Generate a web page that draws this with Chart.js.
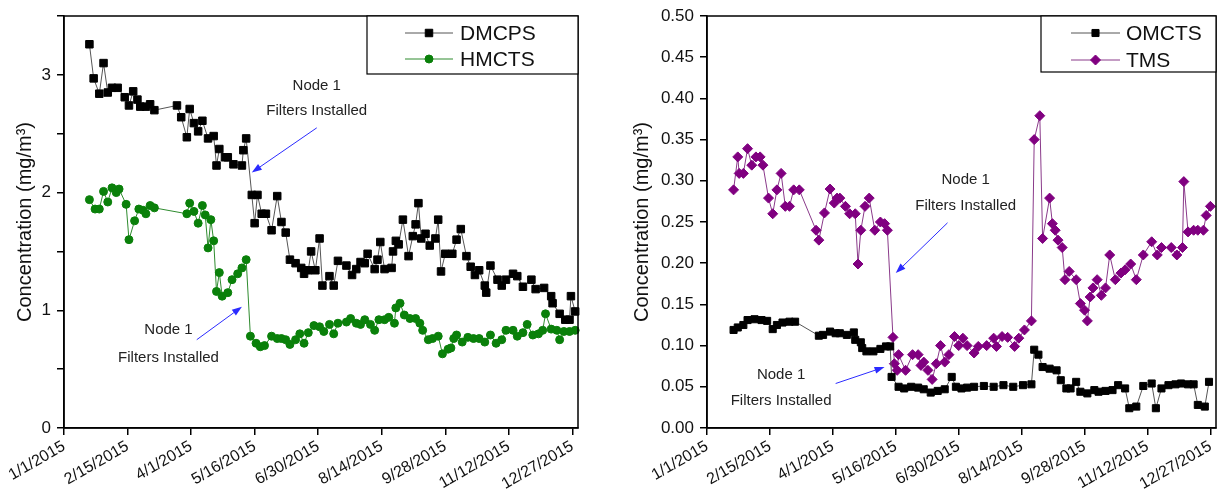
<!DOCTYPE html>
<html>
<head>
<meta charset="utf-8">
<script src="https://cdn.jsdelivr.net/npm/chart.js@4/dist/chart.umd.min.js"></script>
<style>
  html, body { margin: 0; padding: 0; background: #fff; }
  #wrap { position: relative; width: 1222px; height: 502px; }
  .panel { position: absolute; top: 0; width: 611px; height: 502px; }
</style>
</head>
<body>
<div id="wrap">
  <div class="panel" style="left:0"><canvas id="leftChart"></canvas></div>
  <div class="panel" style="left:611px"><canvas id="rightChart"></canvas></div>
</div>
<script>
'use strict';

// ─────────────────────────────────────────────
// DATA (x = days since 1/1/2015)
// ─────────────────────────────────────────────
const tickDays = [0, 45, 90, 135, 180, 225, 270, 315, 360];
const tickLabels = ['1/1/2015', '2/15/2015', '4/1/2015', '5/16/2015', '6/30/2015',
  '8/14/2015', '9/28/2015', '11/12/2015', '12/27/2015'];

const leftYTicks = [0, 0.5, 1, 1.5, 2, 2.5, 3, 3.5];
const rightYTicks = [0, 0.05, 0.1, 0.15, 0.2, 0.25, 0.3, 0.35, 0.4, 0.45, 0.5];

const dmcpsDays = [18, 21, 25, 28, 31, 34, 38, 43, 46, 49, 52, 54, 58, 61, 64,
  80, 83, 87, 89, 92, 95, 98, 102, 106, 108, 110, 114, 116, 120, 126, 127, 129,
  133, 135, 137, 140, 143, 147, 151, 154, 157, 160, 164, 168, 170, 173, 175, 178,
  181, 183, 188, 191, 194, 200, 204, 207, 210, 213, 215, 220, 222, 224, 227, 232,
  233, 235, 237, 240, 244, 247, 249, 251, 253, 256, 259, 263, 265, 267, 270, 275,
  278, 281, 285, 288, 291, 294, 298, 299, 302, 307, 310, 313, 318, 321, 325, 331,
  334, 340, 345, 346, 351, 355, 358, 359, 362];
const dmcpsValues = [3.26, 2.97, 2.84, 3.10, 2.85, 2.89, 2.89, 2.81, 2.74, 2.86, 2.79, 2.73, 2.73, 2.75, 2.70,
  2.74, 2.64, 2.47, 2.71, 2.59, 2.52, 2.61, 2.46, 2.48, 2.23, 2.37, 2.30, 2.30, 2.24, 2.23, 2.36, 2.46,
  1.98, 1.74, 1.98, 1.82, 1.82, 1.68, 1.97, 1.75, 1.66, 1.43, 1.40, 1.36, 1.31, 1.34, 1.50, 1.34,
  1.61, 1.21, 1.29, 1.21, 1.42, 1.38, 1.30, 1.35, 1.41, 1.40, 1.48, 1.35, 1.43, 1.58, 1.35, 1.36,
  1.50, 1.59, 1.56, 1.77, 1.46, 1.63, 1.73, 1.91, 1.61, 1.65, 1.55, 1.61, 1.77, 1.33, 1.48, 1.48,
  1.60, 1.69, 1.46, 1.37, 1.30, 1.34, 1.21, 1.15, 1.38, 1.26, 1.21, 1.26, 1.31, 1.29, 1.20, 1.26,
  1.18, 1.19, 1.12, 1.06, 0.97, 0.92, 0.92, 1.12, 0.99];

const hmctsDays = [18, 22, 25, 28, 31, 34, 37, 39, 44, 46, 50, 53, 56, 58, 61, 64,
  87, 89, 92, 95, 98, 100, 102, 104, 106, 108, 110, 112, 116, 119, 123, 126, 129,
  132, 136, 139, 142, 147, 151, 154, 157, 160, 164, 167, 170, 173, 177, 181, 184,
  188, 191, 194, 200, 203, 207, 210, 213, 217, 220, 223, 227, 230, 234, 235, 238,
  241, 245, 249, 252, 254, 258, 261, 265, 268, 272, 274, 276, 278, 282, 286, 290,
  294, 298, 302, 306, 310, 313, 318, 321, 325, 328, 332, 336, 339, 341, 345, 349,
  351, 354, 358, 362];
const hmctsValues = [1.94, 1.86, 1.86, 2.01, 1.92, 2.04, 2.00, 2.03, 1.90, 1.60, 1.76, 1.86, 1.85, 1.82, 1.89, 1.87,
  1.82, 1.91, 1.84, 1.74, 1.89, 1.81, 1.53, 1.77, 1.59, 1.16, 1.32, 1.12, 1.15, 1.26, 1.31, 1.36, 1.43,
  0.78, 0.72, 0.69, 0.70, 0.78, 0.76, 0.76, 0.75, 0.71, 0.75, 0.80, 0.72, 0.81, 0.87, 0.86, 0.82,
  0.88, 0.80, 0.89, 0.90, 0.93, 0.89, 0.88, 0.92, 0.88, 0.83, 0.92, 0.92, 0.94, 0.89, 1.02, 1.06,
  0.96, 0.93, 0.93, 0.89, 0.83, 0.75, 0.76, 0.78, 0.63, 0.67, 0.68, 0.76, 0.79, 0.73, 0.77, 0.76,
  0.76, 0.73, 0.79, 0.72, 0.75, 0.83, 0.83, 0.78, 0.81, 0.88, 0.79, 0.80, 0.83, 0.97, 0.84, 0.83,
  0.75, 0.82, 0.82, 0.83];

const omctsDays = [19, 22, 26, 29, 34, 39, 43, 47, 50, 54, 59, 63,
  80, 83, 88, 92, 95, 100, 105, 106, 110, 111, 114, 119, 124, 128, 131,
  132, 137, 141, 146, 151, 155, 160, 165, 170, 175, 178, 182, 186, 191, 198,
  205, 212, 219, 226, 232, 234, 237, 240, 245, 250, 253, 257, 260, 264, 267,
  272, 277, 280, 285, 290, 294, 299, 302, 307, 312, 318, 321, 325, 330, 335,
  339, 344, 348, 351, 356, 359];
const omctsValues = [0.119, 0.122, 0.125, 0.131, 0.132, 0.131, 0.130, 0.120, 0.125, 0.128, 0.129, 0.129,
  0.112, 0.113, 0.117, 0.115, 0.115, 0.113, 0.116, 0.107, 0.104, 0.097, 0.093, 0.093, 0.096, 0.099, 0.099,
  0.062, 0.050, 0.048, 0.050, 0.049, 0.047, 0.043, 0.045, 0.047, 0.062, 0.050, 0.048, 0.049, 0.050, 0.051,
  0.050, 0.052, 0.050, 0.052, 0.053, 0.095, 0.089, 0.074, 0.072, 0.070, 0.058, 0.048, 0.048, 0.056, 0.044,
  0.042, 0.046, 0.044, 0.045, 0.046, 0.052, 0.048, 0.024, 0.026, 0.051, 0.054, 0.024, 0.048, 0.052, 0.053,
  0.054, 0.053, 0.053, 0.028, 0.026, 0.056];

const tmsDays = [19, 22, 23, 26, 29, 32, 35, 38, 40, 44, 47, 50, 53, 56, 59, 62, 66,
  78, 80, 84, 88, 91, 93, 95, 99, 102, 106, 108, 110, 113, 116, 120, 124, 127, 129,
  133, 134, 136, 137, 142, 147, 151, 153, 155, 158, 161, 164, 167, 170, 173, 177,
  180, 183, 186, 191, 194, 200, 205, 207, 211, 215, 220, 223, 227, 232,
  234, 238, 240, 245, 247, 249, 251, 254, 256, 259, 264, 267, 270, 272, 274, 276,
  279, 282, 285, 288, 292, 296, 299, 303, 307, 312, 318, 322, 325, 332, 336, 340,
  341, 344, 348, 351, 355, 357, 360];
const tmsValues = [0.289, 0.329, 0.309, 0.309, 0.339, 0.319, 0.329, 0.329, 0.319, 0.279, 0.260, 0.289, 0.309, 0.269, 0.269, 0.289, 0.289,
  0.240, 0.228, 0.261, 0.290, 0.273, 0.279, 0.279, 0.269, 0.260, 0.260, 0.199, 0.240, 0.269, 0.279, 0.240, 0.250, 0.248, 0.240,
  0.110, 0.078, 0.070, 0.089, 0.070, 0.089, 0.089, 0.076, 0.080, 0.070, 0.059, 0.078, 0.100, 0.080, 0.089, 0.111,
  0.100, 0.109, 0.100, 0.091, 0.099, 0.100, 0.109, 0.099, 0.111, 0.110, 0.099, 0.109, 0.119, 0.130,
  0.350, 0.379, 0.230, 0.279, 0.248, 0.240, 0.228, 0.219, 0.180, 0.190, 0.180, 0.151, 0.143, 0.130, 0.159, 0.170,
  0.180, 0.161, 0.170, 0.210, 0.180, 0.188, 0.192, 0.199, 0.180, 0.210, 0.226, 0.210, 0.219, 0.219, 0.210, 0.219,
  0.299, 0.238, 0.240, 0.240, 0.240, 0.258, 0.269];

// "Node 1 / Filters Installed" notes, in data units: [textDay, line1Y, line2Y], arrow from/to
const leftNotes = [
  { text: [179, 2.91, 2.69], from: [179, 2.55], to: [133, 2.17] },
  { text: [74, 0.83, 0.60], from: [94, 0.75], to: [126, 1.03] },
];
const rightNotes = [
  { text: [185, 0.301, 0.269], from: [172, 0.249], to: [135, 0.188] },
  { text: [53, 0.065, 0.033], from: [92, 0.054], to: [127, 0.074] },
];

const FONT = '"Liberation Sans", Arial, sans-serif';

function toPoints(days, values) {
  return days.map((d, i) => ({ x: d, y: values[i] }));
}

// ─────────────────────────────────────────────
// PLUGINS: frame, boxed legend, arrows
// ─────────────────────────────────────────────
const framePlugin = {
  id: 'frame',
  afterDraw(chart) {
    const { ctx, chartArea: a } = chart;
    ctx.save();
    ctx.strokeStyle = '#000';
    ctx.lineWidth = 1.5;
    ctx.strokeRect(a.left, a.top, a.right - a.left, a.bottom - a.top);
    ctx.restore();
  },
};

const boxLegend = {
  id: 'boxLegend',
  afterDraw(chart, args, o) {
    const { ctx, chartArea: a } = chart;
    const left = a.right - o.width;
    const top = a.top;
    ctx.save();
    ctx.fillStyle = '#fff';
    ctx.fillRect(left, top, o.width, o.height);
    ctx.strokeStyle = '#000';
    ctx.lineWidth = 1.2;
    ctx.strokeRect(left, top, o.width, o.height);
    chart.data.datasets.forEach((ds, i) => {
      const y = top + o.rows[i];
      ctx.strokeStyle = ds.borderColor;
      ctx.lineWidth = 1;
      ctx.beginPath();
      ctx.moveTo(left + o.line[0], y);
      ctx.lineTo(left + o.line[1], y);
      ctx.stroke();
      ctx.fillStyle = ds.pointBackgroundColor;
      ctx.strokeStyle = ds.pointBorderColor;
      Chart.helpers.drawPoint(ctx, {
        pointStyle: ds.pointStyle, radius: ds.pointRadius, rotation: 0, borderWidth: 1,
      }, left + (o.line[0] + o.line[1]) / 2, y);
      ctx.fillStyle = '#111';
      ctx.font = '21px ' + FONT;
      ctx.textAlign = 'left';
      ctx.textBaseline = 'middle';
      ctx.fillText(ds.label, left + o.textX, y + 1);
    });
    ctx.restore();
  },
};

const notesPlugin = {
  id: 'notes',
  afterDatasetsDraw(chart, args, o) {
    const { ctx, scales: { x, y } } = chart;
    ctx.save();
    o.items.forEach((n) => {
      const tx = x.getPixelForValue(n.text[0]);
      ctx.font = '15px ' + FONT;
      ctx.fillStyle = '#222';
      ctx.textAlign = 'center';
      ctx.textBaseline = 'middle';
      ctx.fillText('Node 1', tx, y.getPixelForValue(n.text[1]));
      ctx.fillText('Filters Installed', tx, y.getPixelForValue(n.text[2]));

      const x0 = x.getPixelForValue(n.from[0]), y0 = y.getPixelForValue(n.from[1]);
      const x1 = x.getPixelForValue(n.to[0]), y1 = y.getPixelForValue(n.to[1]);
      const ang = Math.atan2(y1 - y0, x1 - x0);
      const head = 10, half = 3.5;
      ctx.strokeStyle = '#2b2bff';
      ctx.fillStyle = '#2b2bff';
      ctx.lineWidth = 1;
      ctx.beginPath();
      ctx.moveTo(x0, y0);
      ctx.lineTo(x1 - Math.cos(ang) * head, y1 - Math.sin(ang) * head);
      ctx.stroke();
      ctx.beginPath();
      ctx.moveTo(x1, y1);
      ctx.lineTo(x1 - Math.cos(ang) * head - Math.sin(ang) * half, y1 - Math.sin(ang) * head + Math.cos(ang) * half);
      ctx.lineTo(x1 - Math.cos(ang) * head + Math.sin(ang) * half, y1 - Math.sin(ang) * head - Math.cos(ang) * half);
      ctx.closePath();
      ctx.fill();
    });
    ctx.restore();
  },
};

// ─────────────────────────────────────────────
// CHART FACTORY
// ─────────────────────────────────────────────
function makeChart(id, cfg) {
  new Chart(document.getElementById(id), {
    type: 'scatter',
    data: { datasets: cfg.datasets },
    plugins: [framePlugin, notesPlugin, boxLegend],
    options: {
      responsive: true,
      maintainAspectRatio: false,
      animation: false,
      devicePixelRatio: 1,
      layout: { padding: { top: 16, right: cfg.padRight, left: 0, bottom: 0 } },
      plugins: {
        legend: { display: false },
        tooltip: { enabled: false },
        boxLegend: cfg.legend,
        notes: { items: cfg.notes },
      },
      scales: {
        x: {
          type: 'linear',
          min: 0,
          max: 364,
          afterBuildTicks: (s) => { s.ticks = tickDays.map((v) => ({ value: v })); },
          afterFit: (s) => { s.height = 74; s.paddingLeft = 0; s.paddingRight = 0; },
          ticks: {
            autoSkip: false,
            minRotation: 30,
            maxRotation: 30,
            padding: 2,
            color: '#111',
            font: { family: FONT, size: 16 },
            callback: (v) => tickLabels[tickDays.indexOf(v)],
          },
          grid: { drawOnChartArea: false, drawTicks: true, tickLength: 7, color: '#000', lineWidth: 1.5 },
          border: { display: true, color: '#000', width: 1.5 },
        },
        y: {
          min: 0,
          max: cfg.yMax,
          afterBuildTicks: (s) => { s.ticks = cfg.yTicks.map((v) => ({ value: v })); },
          afterFit: (s) => { s.width = cfg.yWidth; s.paddingTop = 0; s.paddingBottom = 0; },
          ticks: {
            padding: 6,
            color: '#111',
            font: { family: FONT, size: 17 },
            callback: cfg.yLabel,
          },
          title: {
            display: true,
            text: 'Concentration (mg/m³)',
            color: '#111',
            font: { family: FONT, size: 20 },
            padding: { top: cfg.titlePad, bottom: 0 },
          },
          grid: { drawOnChartArea: false, drawTicks: true, tickLength: 7, color: '#000', lineWidth: 1.5 },
          border: { display: true, color: '#000', width: 1.5 },
        },
      },
    },
  });
}

function series(label, days, values, style) {
  return Object.assign({
    label,
    data: toPoints(days, values),
    showLine: true,
    borderWidth: 1,
    pointBorderWidth: 1,
    pointHoverRadius: 0,
    clip: false,
  }, style);
}

makeChart('leftChart', {
  yMax: 3.5,
  yTicks: leftYTicks,
  yLabel: (v) => (Number.isInteger(v) ? String(v) : ''),
  yWidth: 64,
  titlePad: 13,
  padRight: 33,
  legend: { width: 211, height: 58, rows: [17, 43], line: [38, 86], textX: 93 },
  notes: leftNotes,
  datasets: [
    series('DMCPS', dmcpsDays, dmcpsValues, {
      borderColor: '#555', pointStyle: 'rect', pointRadius: 5.3,
      pointBackgroundColor: '#000', pointBorderColor: '#000',
    }),
    series('HMCTS', hmctsDays, hmctsValues, {
      borderColor: '#2e8b2e', pointStyle: 'circle', pointRadius: 4,
      pointBackgroundColor: '#0a800a', pointBorderColor: '#0a800a',
    }),
  ],
});

makeChart('rightChart', {
  yMax: 0.5,
  yTicks: rightYTicks,
  yLabel: (v) => v.toFixed(2),
  yWidth: 96,
  titlePad: 19,
  padRight: 4,
  legend: { width: 175, height: 56, rows: [17, 44], line: [30, 79], textX: 85 },
  notes: rightNotes,
  datasets: [
    series('OMCTS', omctsDays, omctsValues, {
      borderColor: '#555', pointStyle: 'rect', pointRadius: 5,
      pointBackgroundColor: '#000', pointBorderColor: '#000',
    }),
    series('TMS', tmsDays, tmsValues, {
      borderColor: '#8a3a8a', pointStyle: 'rectRot', pointRadius: 5,
      pointBackgroundColor: '#800080', pointBorderColor: '#800080',
    }),
  ],
});
</script>
</body>
</html>
